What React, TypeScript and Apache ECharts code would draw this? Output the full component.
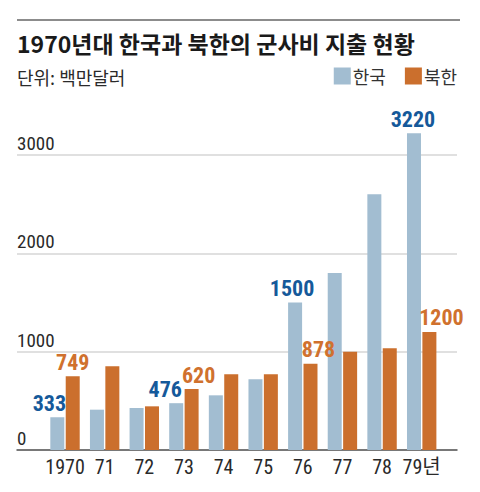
import React, { useEffect, useRef } from "react";
import * as echarts from "echarts";

const years = ["1970", "71", "72", "73", "74", "75", "76", "77", "78", "79년"];
const southKorea = [333, 410, 427, 476, 556, 719, 1500, 1800, 2600, 3220];
const northKorea = [749, 851, 444, 620, 770, 770, 878, 1000, 1034, 1200];
const seriesNames = ["한국", "북한"];
const yTicks = [0, 1000, 2000, 3000];

// which values carry a printed label, and how far each label is nudged sideways
const skLabelShift: Record<number, number> = { 0: -8, 3: -11, 6: -3, 9: -1 };
const nkLabelShift: Record<number, number> = { 0: 0, 3: 7, 6: 8, 9: 12 };

const NUM_FONT = "'Roboto Condensed', 'Liberation Sans Narrow', 'Liberation Sans', 'Noto Sans CJK KR', sans-serif";
const KR_FONT = "'Noto Sans CJK KR', sans-serif";
const SK_COLOR = "#a2bdd1";
const NK_COLOR = "#cb6f2d";
const SK_LABEL = "#15599a";
const NK_LABEL = "#d0712e";

function makeData(values: number[], shifts: Record<number, number>, color: string) {
  return values.map((v, i) => {
    if (shifts[i] === undefined) return { value: v, label: { show: false } };
    return {
      value: v,
      label: {
        show: true,
        position: "top",
        distance: 3,
        offset: [shifts[i], 0],
        color,
        fontFamily: NUM_FONT,
        fontWeight: "bold",
        fontSize: 22,
      },
    };
  });
}

export default function App() {
  const ref = useRef<HTMLDivElement>(null);
  useEffect(() => {
    if (!ref.current) return;
    const chart = echarts.init(ref.current, null, { renderer: "svg" });
    const yMax = yTicks[yTicks.length - 1];
    chart.setOption({
      animation: false,
      backgroundColor: "#ffffff",
      graphic: [
        {
          type: "line",
          shape: { x1: 17, y1: 20, x2: 460, y2: 20 },
          style: { stroke: "#8c8c8c", lineWidth: 2 },
        },
        {
          type: "text",
          x: 17,
          y: 43,
          style: {
            text: "1970년대 한국과 북한의 군사비 지출 현황",
            fontFamily: KR_FONT,
            fontWeight: "bold",
            fontSize: 23,
            fill: "#1a1a1a",
            verticalAlign: "middle",
          },
        },
        {
          type: "text",
          x: 17,
          y: 77,
          style: {
            text: "단위: 백만달러",
            fontFamily: KR_FONT,
            fontSize: 18,
            fill: "#2a2a2a",
            verticalAlign: "middle",
          },
        },
      ],
      legend: {
        data: seriesNames,
        right: 23,
        top: 67,
        padding: 0,
        itemWidth: 17,
        itemHeight: 17,
        itemGap: 19,
        icon: "rect",
        textStyle: { fontFamily: KR_FONT, fontSize: 18, color: "#333333", padding: [0, 0, 0, -3] },
      },
      grid: [
        { left: 17, right: 23, top: 155, bottom: 42 },
        { left: 45.2, right: 38.5, top: 105.8, bottom: 42 },
      ],
      xAxis: [
        {
          gridIndex: 0,
          type: "value",
          min: 0,
          max: 1,
          axisLabel: { show: false },
          axisTick: { show: false },
          splitLine: { show: false },
          axisLine: { show: true, onZero: false, lineStyle: { color: "#555555", width: 1.5 } },
        },
        {
          gridIndex: 1,
          type: "category",
          data: years,
          axisLine: { show: false },
          axisTick: { show: false },
          axisLabel: { interval: 0, fontFamily: NUM_FONT, fontSize: 20, color: "#2a2a2a", margin: 7 },
        },
      ],
      yAxis: [
        {
          gridIndex: 0,
          type: "value",
          min: 0,
          max: yMax,
          interval: 1000,
          axisLine: { show: false },
          axisTick: { show: false },
          splitLine: { lineStyle: { color: "#d6d6d6", width: 1.5 } },
          axisLabel: {
            inside: true,
            margin: 0,
            formatter: (v: number) => String(v),
            fontFamily: NUM_FONT,
            fontSize: 19,
            color: "#2a2a2a",
            verticalAlign: "bottom",
            padding: [0, 0, 2, 0],
          },
        },
        {
          gridIndex: 1,
          type: "value",
          min: 0,
          max: 3500,
          show: false,
        },
      ],
      series: [
        {
          name: seriesNames[0],
          type: "bar",
          xAxisIndex: 1,
          yAxisIndex: 1,
          barWidth: 14,
          barGap: "10%",
          itemStyle: { color: SK_COLOR },
          data: makeData(southKorea, skLabelShift, SK_LABEL),
        },
        {
          name: seriesNames[1],
          type: "bar",
          xAxisIndex: 1,
          yAxisIndex: 1,
          barWidth: 14,
          barGap: "10%",
          itemStyle: { color: NK_COLOR },
          data: makeData(northKorea, nkLabelShift, NK_LABEL),
        },
      ],
    });
    return () => chart.dispose();
  }, []);
  return <div ref={ref} style={{ width: 480, height: 492, margin: -8 }} />;
}
